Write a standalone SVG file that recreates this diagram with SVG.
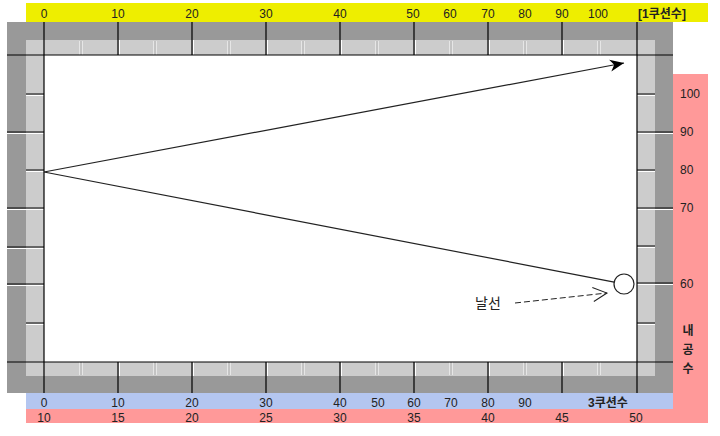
<svg xmlns="http://www.w3.org/2000/svg" width="720" height="436" viewBox="0 0 720 436">
<style>
.t{font-family:"Liberation Sans","Noto Sans CJK KR",sans-serif;font-size:12px;fill:#222;}
.c{text-anchor:middle;}
.b{font-weight:bold;}
.k{stroke:#000;stroke-width:1.2;fill:none;}
.hl{stroke:#fff;stroke-width:1;fill:none;}
.sep{stroke:#fff;stroke-width:3;}
.sepd{stroke:#888;stroke-width:1;}
</style>
<defs>
<marker id="ah" markerUnits="userSpaceOnUse" markerWidth="16" markerHeight="14" refX="14" refY="7" orient="auto">
<path d="M0,1 L14,7 L0,13 L4,7 z" fill="#000"/>
</marker>
<marker id="av" markerUnits="userSpaceOnUse" markerWidth="18" markerHeight="18" refX="15" refY="8" orient="auto">
<path d="M1,1 L15,8 L1,15" fill="none" stroke="#222" stroke-width="1"/>
</marker>
</defs>
<rect width="720" height="436" fill="#fff"/>
<g id="board">
<rect x="26" y="3" width="682" height="19" fill="#eeee00"/>
<rect x="673" y="74" width="35" height="349" fill="#ff9999"/>
<rect x="26" y="393" width="647" height="16" fill="#b4c6f0"/>
<rect x="26" y="409" width="682" height="14" fill="#ff9999"/>
<rect x="7" y="22" width="666" height="371" fill="#999"/>
<rect x="26" y="40" width="629" height="336" fill="#ccc"/>
<rect x="44" y="55" width="593" height="307" fill="#fff"/>
<g id="tiles">
<path class="sep" d="M81,41V55M155,41V55M229,41V55M303,41V55M377,41V55M451,41V55M525,41V55M599,41V55M81,362V375M155,362V375M229,362V375M303,362V375M377,362V375M451,362V375M525,362V375M599,362V375"/>
<path class="sepd" d="M81,41V55M155,41V55M229,41V55M303,41V55M377,41V55M451,41V55M525,41V55M599,41V55M81,362V375M155,362V375M229,362V375M303,362V375M377,362V375M451,362V375M525,362V375M599,362V375"/>
<path class="hl" d="M119.5,40V55M193.5,40V55M267.5,40V55M341.5,40V55M415.5,40V55M489.5,40V55M563.5,40V55M119.5,362V376M193.5,362V376M267.5,362V376M341.5,362V376M415.5,362V376M489.5,362V376M563.5,362V376"/>
<path class="hl" d="M26,95.5H44M7,133.5H44M26,171.5H44M7,209.5H44M7,248.5H44M7,285.5H44M26,324.5H44M637,95.5H655M637,133.5H673M637,171.5H655M637,209.5H673M637,247.5H655M637,284.5H673M637,324.5H655"/>
</g>
<g id="ticks">
<path class="k" d="M7,55H673M7,362H673M44,22V393M637,22V393"/>
<path class="k" d="M118,22V55M192,22V55M266,22V55M340,22V55M414,22V55M488,22V55M562,22V55M118,362V393M192,362V393M266,362V393M340,362V393M414,362V393M488,362V393M562,362V393"/>
<path class="k" d="M26,94H44M7,132H44M26,170H44M7,208H44M7,247H44M7,284H44M26,323H44"/>
<path class="k" d="M637,94H655M637,132H673M637,170H655M637,208H673M637,246H655M637,283H673M637,323H655"/>
</g>
</g>
<g id="top-scale" class="t c">
<text x="44" y="18">0</text><text x="118" y="18">10</text><text x="192" y="18">20</text><text x="266" y="18">30</text><text x="340" y="18">40</text><text x="413" y="18">50</text><text x="450" y="18">60</text><text x="488" y="18">70</text><text x="525" y="18">80</text><text x="562" y="18">90</text><text x="598" y="18">100</text>
<text x="662" y="18" class="b">[1쿠션수]</text>
</g>
<g id="bottom-scale" class="t c">
<text x="44" y="407">0</text><text x="118" y="407">10</text><text x="192" y="407">20</text><text x="266" y="407">30</text><text x="340" y="407">40</text><text x="378" y="407">50</text><text x="414" y="407">60</text><text x="451" y="407">70</text><text x="488" y="407">80</text><text x="525" y="407">90</text>
<text x="608" y="407" class="b">3쿠션수</text>
<text x="44" y="422">10</text><text x="118" y="422">15</text><text x="192" y="422">20</text><text x="266" y="422">25</text><text x="340" y="422">30</text><text x="414" y="422">35</text><text x="488" y="422">40</text><text x="562" y="422">45</text><text x="636" y="422">50</text>
</g>
<g id="right-scale" class="t">
<text x="680" y="98">100</text><text x="680" y="136">90</text><text x="680" y="174">80</text><text x="680" y="212">70</text><text x="680" y="288">60</text>
<text x="688" y="335" class="c b">내</text><text x="688" y="354" class="c b">공</text><text x="688" y="373" class="c b">수</text>
</g>
<g id="ball"><circle cx="624" cy="284" r="10" fill="#fff" stroke="#222" stroke-width="1.2"/></g>
<g id="label"><text x="475" y="308" class="t" style="font-size:14px">날선</text></g>
<g id="connectors">
<line x1="44" y1="172" x2="624" y2="63" stroke="#222" stroke-width="1.2" marker-end="url(#ah)"/>
<line x1="44" y1="172" x2="614.2" y2="282.1" stroke="#222" stroke-width="1.2"/>
<line x1="515" y1="303" x2="607" y2="293" stroke="#222" stroke-width="1" stroke-dasharray="6,3" marker-end="url(#av)"/>
</g>
</svg>
